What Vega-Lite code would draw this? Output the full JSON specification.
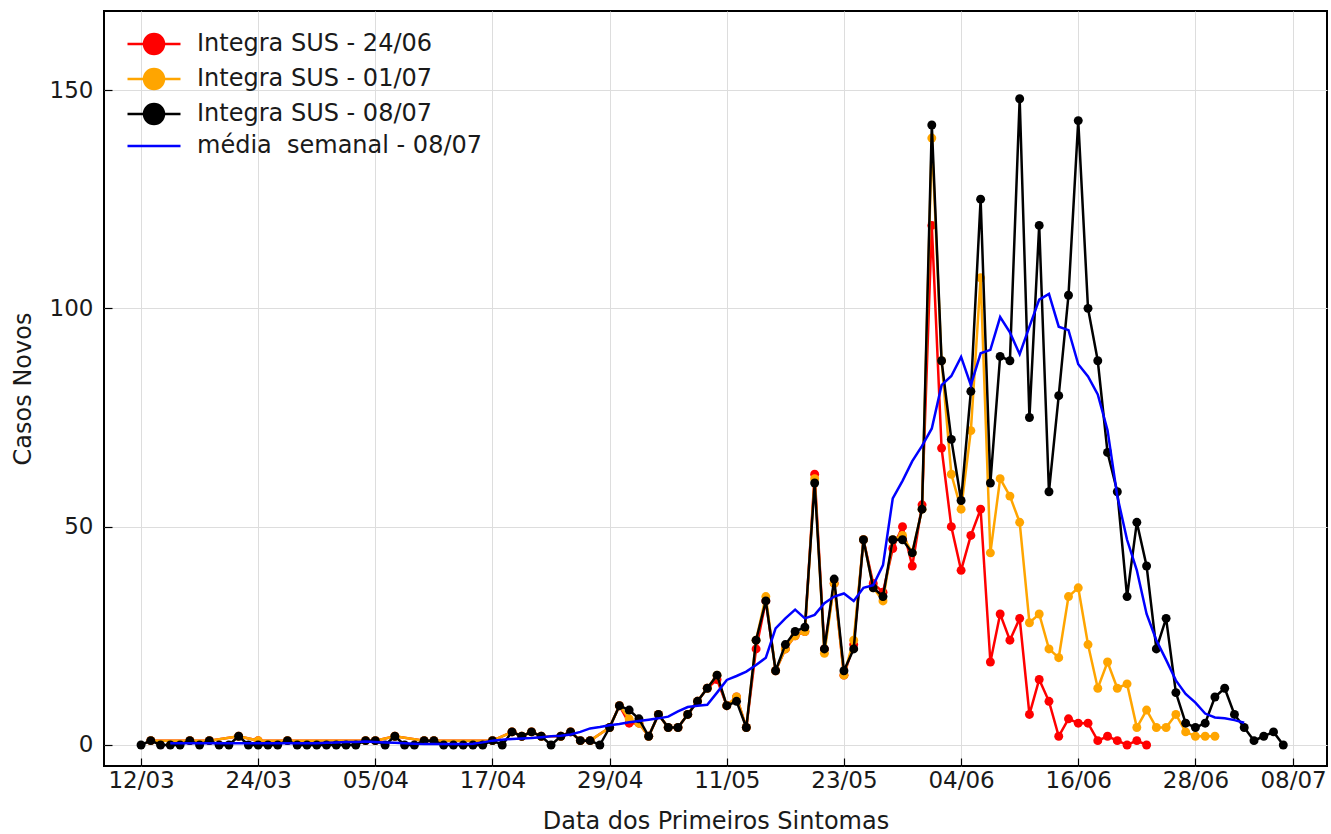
{
  "$schema": "https://vega.github.io/schema/vega-lite/v6.json",
  "width": 1223,
  "height": 755,
  "autosize": {"type": "none"},
  "padding": {"left": 104, "top": 11, "right": 4, "bottom": 68},
  "background": "white",
  "config": {
    "font": "DejaVu Sans",
    "view": {"stroke": "black", "strokeWidth": 2},
    "axis": {
      "domain": false,
      "grid": true,
      "gridColor": "#dddddd",
      "gridWidth": 1,
      "tickColor": "black",
      "tickWidth": 1.2,
      "tickSize": -8,
      "labelFont": "DejaVu Sans",
      "labelFontSize": 23,
      "labelColor": "#1a1a1a",
      "titleFont": "DejaVu Sans",
      "titleFontSize": 24,
      "titleFontWeight": "normal",
      "titleColor": "#1a1a1a",
      "labelOverlap": false,
      "labelFlush": false
    }
  },
  "data": {
    "values": [
      {"t": "2020-03-12", "k": 0},
      {"t": "2020-03-13", "k": 1, "o": 1, "r": 1},
      {"t": "2020-03-14", "k": 0},
      {"t": "2020-03-15", "k": 0, "m": 0.4},
      {"t": "2020-03-16", "k": 0, "m": 0.4},
      {"t": "2020-03-17", "k": 1, "o": 1, "r": 1, "m": 0.4},
      {"t": "2020-03-18", "k": 0, "m": 0.4},
      {"t": "2020-03-19", "k": 1, "o": 1, "r": 1, "m": 0.4},
      {"t": "2020-03-20", "k": 0, "m": 0.4},
      {"t": "2020-03-21", "k": 0, "m": 0.4},
      {"t": "2020-03-22", "k": 2, "o": 2, "r": 2, "m": 0.4},
      {"t": "2020-03-23", "k": 0, "m": 0.4},
      {"t": "2020-03-24", "k": 0, "o": 1, "r": 1, "m": 0.4},
      {"t": "2020-03-25", "k": 0, "m": 0.4},
      {"t": "2020-03-26", "k": 0, "m": 0.4},
      {"t": "2020-03-27", "k": 1, "o": 1, "r": 1, "m": 0.4},
      {"t": "2020-03-28", "k": 0, "m": 0.4},
      {"t": "2020-03-29", "k": 0, "m": 0.4},
      {"t": "2020-03-30", "k": 0, "m": 0.4},
      {"t": "2020-03-31", "k": 0, "m": 0.5},
      {"t": "2020-04-01", "k": 0, "m": 0.6},
      {"t": "2020-04-02", "k": 0, "m": 0.7},
      {"t": "2020-04-03", "k": 0, "m": 0.7},
      {"t": "2020-04-04", "k": 1, "o": 1, "r": 1, "m": 0.8},
      {"t": "2020-04-05", "k": 1, "o": 1, "r": 1, "m": 0.7},
      {"t": "2020-04-06", "k": 0, "m": 0.6},
      {"t": "2020-04-07", "k": 2, "o": 2, "r": 2, "m": 0.5},
      {"t": "2020-04-08", "k": 0, "m": 0.4},
      {"t": "2020-04-09", "k": 0, "m": 0.3},
      {"t": "2020-04-10", "k": 1, "o": 1, "r": 1, "m": 0.2},
      {"t": "2020-04-11", "k": 1, "o": 1, "r": 1, "m": 0.2},
      {"t": "2020-04-12", "k": 0, "m": 0.2},
      {"t": "2020-04-13", "k": 0, "m": 0.2},
      {"t": "2020-04-14", "k": 0, "m": 0.2},
      {"t": "2020-04-15", "k": 0, "m": 0.3},
      {"t": "2020-04-16", "k": 0, "m": 0.6},
      {"t": "2020-04-17", "k": 1, "o": 1, "r": 1, "m": 1.0},
      {"t": "2020-04-18", "k": 0, "m": 1.2},
      {"t": "2020-04-19", "k": 3, "o": 3, "r": 3, "m": 1.4},
      {"t": "2020-04-20", "k": 2, "o": 2, "r": 2, "m": 1.5},
      {"t": "2020-04-21", "k": 3, "o": 3, "r": 3, "m": 1.6},
      {"t": "2020-04-22", "k": 2, "o": 2, "r": 2, "m": 1.8},
      {"t": "2020-04-23", "k": 0, "m": 2.0},
      {"t": "2020-04-24", "k": 2, "o": 2, "r": 2, "m": 2.1},
      {"t": "2020-04-25", "k": 3, "o": 3, "r": 3, "m": 2.4},
      {"t": "2020-04-26", "k": 1, "o": 1, "r": 1, "m": 3.0},
      {"t": "2020-04-27", "k": 1, "o": 1, "r": 1, "m": 3.8},
      {"t": "2020-04-28", "k": 0, "m": 4.1},
      {"t": "2020-04-29", "k": 4, "o": 4, "r": 4, "m": 4.5},
      {"t": "2020-04-30", "k": 9, "o": 9, "r": 9, "m": 4.8},
      {"t": "2020-05-01", "k": 8, "o": 6, "r": 5, "m": 5.2},
      {"t": "2020-05-02", "k": 6, "o": 5, "r": 5, "m": 5.5},
      {"t": "2020-05-03", "k": 2, "o": 2, "r": 2, "m": 5.8},
      {"t": "2020-05-04", "k": 7, "o": 7, "r": 7, "m": 6.1},
      {"t": "2020-05-05", "k": 4, "o": 4, "r": 4, "m": 6.5},
      {"t": "2020-05-06", "k": 4, "o": 4, "r": 4, "m": 7.7},
      {"t": "2020-05-07", "k": 7, "o": 7, "r": 7, "m": 8.7},
      {"t": "2020-05-08", "k": 10, "o": 10, "r": 10, "m": 9.0},
      {"t": "2020-05-09", "k": 13, "o": 13, "r": 13, "m": 9.2},
      {"t": "2020-05-10", "k": 16, "o": 16, "r": 15, "m": 12.0},
      {"t": "2020-05-11", "k": 9, "o": 9, "r": 9, "m": 14.9},
      {"t": "2020-05-12", "k": 10, "o": 11, "r": 11, "m": 15.8},
      {"t": "2020-05-13", "k": 4, "o": 4, "r": 4, "m": 16.8},
      {"t": "2020-05-14", "k": 24, "o": 24, "r": 22, "m": 18.3},
      {"t": "2020-05-15", "k": 33, "o": 34, "r": 33, "m": 20.0},
      {"t": "2020-05-16", "k": 17, "o": 17, "r": 17, "m": 26.7},
      {"t": "2020-05-17", "k": 23, "o": 22, "r": 22, "m": 29.0},
      {"t": "2020-05-18", "k": 26, "o": 25, "r": 25, "m": 31.0},
      {"t": "2020-05-19", "k": 27, "o": 26, "r": 26, "m": 29.0},
      {"t": "2020-05-20", "k": 60, "o": 61, "r": 62, "m": 29.8},
      {"t": "2020-05-21", "k": 22, "o": 21, "r": 22, "m": 32.5},
      {"t": "2020-05-22", "k": 38, "o": 37, "r": 37, "m": 34.0},
      {"t": "2020-05-23", "k": 17, "o": 16, "r": 16, "m": 34.7},
      {"t": "2020-05-24", "k": 22, "o": 24, "r": 23, "m": 33.0},
      {"t": "2020-05-25", "k": 47, "o": 47, "r": 47, "m": 36.0},
      {"t": "2020-05-26", "k": 36, "o": 36, "r": 37, "m": 36.6},
      {"t": "2020-05-27", "k": 34, "o": 33, "r": 35, "m": 41.2},
      {"t": "2020-05-28", "k": 47, "o": 47, "r": 45, "m": 56.5},
      {"t": "2020-05-29", "k": 47, "o": 48, "r": 50, "m": 60.5},
      {"t": "2020-05-30", "k": 44, "o": 44, "r": 41, "m": 65.0},
      {"t": "2020-05-31", "k": 54, "o": 54, "r": 55, "m": 68.5},
      {"t": "2020-06-01", "k": 142, "o": 139, "r": 119, "m": 72.5},
      {"t": "2020-06-02", "k": 88, "o": 88, "r": 68, "m": 82.4},
      {"t": "2020-06-03", "k": 70, "o": 62, "r": 50, "m": 84.5},
      {"t": "2020-06-04", "k": 56, "o": 54, "r": 40, "m": 88.9},
      {"t": "2020-06-05", "k": 81, "o": 72, "r": 48, "m": 82.4},
      {"t": "2020-06-06", "k": 125, "o": 107, "r": 54, "m": 89.7},
      {"t": "2020-06-07", "k": 60, "o": 44, "r": 19, "m": 90.5},
      {"t": "2020-06-08", "k": 89, "o": 61, "r": 30, "m": 98.0},
      {"t": "2020-06-09", "k": 88, "o": 57, "r": 24, "m": 94.5},
      {"t": "2020-06-10", "k": 148, "o": 51, "r": 29, "m": 89.5},
      {"t": "2020-06-11", "k": 75, "o": 28, "r": 7, "m": 95.8},
      {"t": "2020-06-12", "k": 119, "o": 30, "r": 15, "m": 102.0},
      {"t": "2020-06-13", "k": 58, "o": 22, "r": 10, "m": 103.3},
      {"t": "2020-06-14", "k": 80, "o": 20, "r": 2, "m": 95.8},
      {"t": "2020-06-15", "k": 103, "o": 34, "r": 6, "m": 95.0},
      {"t": "2020-06-16", "k": 143, "o": 36, "r": 5, "m": 87.2},
      {"t": "2020-06-17", "k": 100, "o": 23, "r": 5, "m": 84.4},
      {"t": "2020-06-18", "k": 88, "o": 13, "r": 1, "m": 80.3},
      {"t": "2020-06-19", "k": 67, "o": 19, "r": 2, "m": 72.1},
      {"t": "2020-06-20", "k": 58, "o": 13, "r": 1, "m": 57.0},
      {"t": "2020-06-21", "k": 34, "o": 14, "r": 0, "m": 47.0},
      {"t": "2020-06-22", "k": 51, "o": 4, "r": 1, "m": 40.0},
      {"t": "2020-06-23", "k": 41, "o": 8, "r": 0, "m": 30.0},
      {"t": "2020-06-24", "k": 22, "o": 4, "m": 24.0},
      {"t": "2020-06-25", "k": 29, "o": 4, "m": 19.5},
      {"t": "2020-06-26", "k": 12, "o": 7, "m": 14.8},
      {"t": "2020-06-27", "k": 5, "o": 3, "m": 11.7},
      {"t": "2020-06-28", "k": 4, "o": 2, "m": 9.7},
      {"t": "2020-06-29", "k": 5, "o": 2, "m": 7.2},
      {"t": "2020-06-30", "k": 11, "o": 2, "m": 6.3},
      {"t": "2020-07-01", "k": 13, "m": 6.1},
      {"t": "2020-07-02", "k": 7, "m": 5.7},
      {"t": "2020-07-03", "k": 4, "m": 5.1},
      {"t": "2020-07-04", "k": 1},
      {"t": "2020-07-05", "k": 2},
      {"t": "2020-07-06", "k": 3},
      {"t": "2020-07-07", "k": 0}
    ]
  },
  "encoding": {
    "x": {
      "field": "t",
      "type": "temporal",
      "scale": {
        "type": "utc",
        "domain": [
          {"year": 2020, "month": 3, "date": 8, "hours": 5, "utc": true},
          {"year": 2020, "month": 7, "date": 11, "hours": 11, "minutes": 30, "utc": true}
        ],
        "nice": false
      },
      "axis": {
        "title": "Data dos Primeiros Sintomas",
        "format": "%d/%m",
        "values": [
          {"year": 2020, "month": 3, "date": 12, "utc": true},
          {"year": 2020, "month": 3, "date": 24, "utc": true},
          {"year": 2020, "month": 4, "date": 5, "utc": true},
          {"year": 2020, "month": 4, "date": 17, "utc": true},
          {"year": 2020, "month": 4, "date": 29, "utc": true},
          {"year": 2020, "month": 5, "date": 11, "utc": true},
          {"year": 2020, "month": 5, "date": 23, "utc": true},
          {"year": 2020, "month": 6, "date": 4, "utc": true},
          {"year": 2020, "month": 6, "date": 16, "utc": true},
          {"year": 2020, "month": 6, "date": 28, "utc": true},
          {"year": 2020, "month": 7, "date": 8, "utc": true}
        ],
        "labelPadding": 11,
        "titlePadding": 17
      }
    }
  },
  "layer": [
    {
      "transform": [{"filter": "isValid(datum.r)"}],
      "mark": {"type": "line", "strokeWidth": 2.5},
      "encoding": {
        "y": {"field": "r", "type": "quantitative"},
        "color": {"datum": "Integra SUS - 24/06", "type": "nominal"}
      }
    },
    {
      "transform": [{"filter": "isValid(datum.r)"}],
      "mark": {"type": "point", "filled": true, "size": 80, "opacity": 1},
      "encoding": {
        "y": {"field": "r", "type": "quantitative"},
        "color": {"datum": "Integra SUS - 24/06", "type": "nominal"}
      }
    },
    {
      "transform": [{"filter": "isValid(datum.o)"}],
      "mark": {"type": "line", "strokeWidth": 2.5},
      "encoding": {
        "y": {"field": "o", "type": "quantitative"},
        "color": {"datum": "Integra SUS - 01/07", "type": "nominal"}
      }
    },
    {
      "transform": [{"filter": "isValid(datum.o)"}],
      "mark": {"type": "point", "filled": true, "size": 80, "opacity": 1},
      "encoding": {
        "y": {"field": "o", "type": "quantitative"},
        "color": {"datum": "Integra SUS - 01/07", "type": "nominal"}
      }
    },
    {
      "transform": [{"filter": "isValid(datum.k)"}],
      "mark": {"type": "line", "strokeWidth": 2.5},
      "encoding": {
        "y": {"field": "k", "type": "quantitative"},
        "color": {"datum": "Integra SUS - 08/07", "type": "nominal"}
      }
    },
    {
      "transform": [{"filter": "isValid(datum.k)"}],
      "mark": {"type": "point", "filled": true, "size": 80, "opacity": 1},
      "encoding": {
        "y": {"field": "k", "type": "quantitative"},
        "color": {"datum": "Integra SUS - 08/07", "type": "nominal"}
      }
    },
    {
      "transform": [{"filter": "isValid(datum.m)"}],
      "mark": {"type": "line", "strokeWidth": 2.5},
      "encoding": {
        "y": {
          "field": "m",
          "type": "quantitative",
          "scale": {"domain": [-4.81, 168.1], "nice": false, "zero": false},
          "axis": {
            "title": "Casos Novos",
            "values": [0, 50, 100, 150],
            "labelPadding": 19,
            "titlePadding": 14
          }
        },
        "color": {
          "datum": "média\u00a0 semanal - 08/07",
          "type": "nominal",
          "scale": {
            "domain": ["Integra SUS - 24/06", "Integra SUS - 01/07", "Integra SUS - 08/07", "média\u00a0 semanal - 08/07"],
            "range": ["#ff0000", "#ffa500", "#000000", "#0000ff"]
          },
          "legend": {
            "title": null,
            "orient": "none",
            "legendX": 38,
            "legendY": 21,
            "labelFont": "DejaVu Sans",
            "labelFontSize": 24,
            "labelColor": "#1a1a1a",
            "labelLimit": 0,
            "symbolSize": 400,
            "labelOffset": 31,
            "rowPadding": 5,
            "encode": {
              "symbols": {
                "update": {
                  "shape": {"signal": "datum.index === 3 ? 'M-2.65,0H2.65' : 'M-2.65,0H-1M1,0H2.65M-1,0A1,1 0 1,1 1,0A1,1 0 1,1 -1,0Z'"},
                  "fill": {"scale": "color", "field": "value"},
                  "stroke": {"scale": "color", "field": "value"},
                  "strokeWidth": {"value": 2.5},
                  "opacity": {"value": 1},
                  "size": {"value": 400}
                }
              }
            }
          }
        }
      }
    }
  ]
}
